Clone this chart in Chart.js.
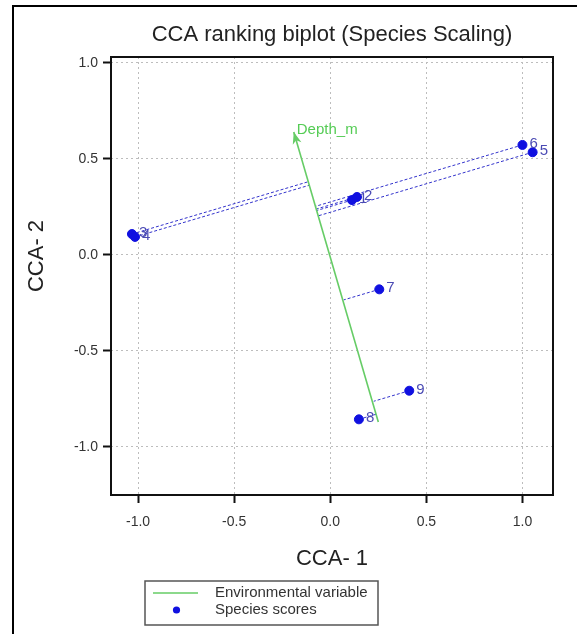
<!DOCTYPE html>
<html>
<head>
<meta charset="utf-8">
<title>CCA ranking biplot</title>
<script src="https://cdn.jsdelivr.net/npm/chart.js@4.4.1/dist/chart.umd.min.js"></script>
<style>
  html, body { margin: 0; padding: 0; background: #fff; }
  #wrap { width: 577px; height: 634px; position: relative; }
</style>
</head>
<body>
<div id="wrap"><canvas id="ccaChart" width="577" height="634"></canvas></div>
<script>
// species scores on the first two CCA axes
const speciesLabels = ['1', '2', '3', '4', '5', '6', '7', '8', '9'];
const speciesCCA1 = [0.113, 0.139, -1.032, -1.016, 1.053, 1.000, 0.255, 0.149, 0.411];
const speciesCCA2 = [0.286, 0.302, 0.109, 0.094, 0.535, 0.573, -0.179, -0.856, -0.707];

// environmental variable: line through the origin, arrow at the head
const envName = 'Depth_m';
const envCCA1 = [0.25, -0.19];   // tail, head
const envCCA2 = [-0.87, 0.64];

const axisTicks = [-1.0, -0.5, 0.0, 0.5, 1.0];

const FONT = '"Liberation Sans", Arial, Helvetica, sans-serif';
const BLUE = '#1010e0';
const GREEN = '#66cc66';

// foot of the perpendicular from each species point onto the env line
const hx = envCCA1[1], hy = envCCA2[1];
const hlen2 = hx * hx + hy * hy;
const projLines = speciesLabels.map((lab, i) => {
  const t = (speciesCCA1[i] * hx + speciesCCA2[i] * hy) / hlen2;
  return [
    { x: speciesCCA1[i], y: speciesCCA2[i] },
    { x: t * hx, y: t * hy }
  ];
});

const datasets = [];
datasets.push({
  label: 'Species scores',
  type: 'scatter',
  data: speciesLabels.map((l, i) => ({ x: speciesCCA1[i], y: speciesCCA2[i] })),
  backgroundColor: BLUE,
  borderColor: BLUE,
  pointRadius: 4.5,
  pointHoverRadius: 4.5
});
datasets.push({
  label: 'Environmental variable',
  type: 'line',
  data: envCCA1.map((v, i) => ({ x: v, y: envCCA2[i] })),
  borderColor: GREEN,
  borderWidth: 1.6,
  pointRadius: 0,
  fill: false
});
projLines.forEach((seg, i) => {
  datasets.push({
    label: 'proj ' + speciesLabels[i],
    type: 'line',
    data: seg,
    borderColor: '#3333cc',
    borderWidth: 1,
    borderDash: [3, 2],
    pointRadius: 0,
    fill: false
  });
});

// frame, arrow head, point labels, axis titles and legend
const biplotDecor = {
  id: 'biplotDecor',
  afterDraw(chart) {
    const ctx = chart.ctx;
    const xs = chart.scales.x, ys = chart.scales.y;
    const area = chart.chartArea;
    ctx.save();

    // outer border of the figure
    ctx.strokeStyle = '#000';
    ctx.lineWidth = 2;
    ctx.strokeRect(13, 6, 700, 700);

    // plot frame
    ctx.lineWidth = 2;
    ctx.strokeStyle = '#111';
    ctx.strokeRect(area.left, area.top, area.right - area.left, area.bottom - area.top);

    // arrow head on the env variable
    const tx = xs.getPixelForValue(envCCA1[0]), ty = ys.getPixelForValue(envCCA2[0]);
    const px = xs.getPixelForValue(envCCA1[1]), py = ys.getPixelForValue(envCCA2[1]);
    const ang = Math.atan2(py - ty, px - tx);
    const len = 12, half = 4.5;
    ctx.fillStyle = GREEN;
    ctx.beginPath();
    ctx.moveTo(px, py);
    ctx.lineTo(px - len * Math.cos(ang) + half * Math.sin(ang), py - len * Math.sin(ang) - half * Math.cos(ang));
    ctx.lineTo(px - len * 0.7 * Math.cos(ang), py - len * 0.7 * Math.sin(ang));
    ctx.lineTo(px - len * Math.cos(ang) - half * Math.sin(ang), py - len * Math.sin(ang) + half * Math.cos(ang));
    ctx.closePath();
    ctx.fill();

    ctx.font = '15px ' + FONT;
    ctx.textAlign = 'left';
    ctx.textBaseline = 'middle';
    ctx.fillStyle = '#55cc55';
    ctx.fillText(envName, px + 3, py - 2);

    // species numbers
    ctx.fillStyle = '#4b4bb4';
    speciesLabels.forEach((lab, i) => {
      const sx = xs.getPixelForValue(speciesCCA1[i]);
      const sy = ys.getPixelForValue(speciesCCA2[i]);
      ctx.fillText(lab, sx + 7, sy - 1);
    });

    // axis titles
    ctx.fillStyle = '#222';
    ctx.font = '22px ' + FONT;
    ctx.textAlign = 'center';
    ctx.fillText('CCA- 1', (area.left + area.right) / 2, 559);
    ctx.save();
    ctx.translate(37, 256);
    ctx.rotate(-Math.PI / 2);
    ctx.fillText('CCA- 2', 0, 0);
    ctx.restore();

    // legend box
    ctx.strokeStyle = '#555';
    ctx.lineWidth = 1.5;
    ctx.strokeRect(145, 581, 233, 44);
    ctx.strokeStyle = GREEN;
    ctx.lineWidth = 1.6;
    ctx.beginPath();
    ctx.moveTo(153, 593);
    ctx.lineTo(198, 593);
    ctx.stroke();
    ctx.fillStyle = BLUE;
    ctx.beginPath();
    ctx.arc(176.5, 610, 3.6, 0, Math.PI * 2);
    ctx.fill();
    ctx.fillStyle = '#333';
    ctx.font = '15px ' + FONT;
    ctx.textAlign = 'left';
    ctx.fillText('Environmental variable', 215, 593);
    ctx.fillText('Species scores', 215, 610);

    ctx.restore();
  }
};

const gridOpts = {
  color: '#bdbdbd',
  lineWidth: 1,
  tickColor: '#111',
  tickLength: 8,
  tickWidth: 2,
  tickBorderDash: []
};

new Chart(document.getElementById('ccaChart'), {
  data: { datasets: datasets },
  options: {
    responsive: false,
    animation: false,
    events: [],
    layout: { padding: { top: 0, right: 24, bottom: 0, left: 0 } },
    plugins: {
      legend: { display: false },
      tooltip: { enabled: false },
      title: {
        display: true,
        fullSize: false,
        text: 'CCA ranking biplot (Species Scaling)',
        color: '#222',
        font: { family: FONT, size: 22, weight: 'normal' },
        padding: { top: 21.5, bottom: 9.1 }
      }
    },
    scales: {
      x: {
        type: 'linear',
        min: -1.141,
        max: 1.159,
        afterBuildTicks: s => { s.ticks = axisTicks.map(v => ({ value: v })); },
        afterFit: s => { s.height = 139; },
        grid: gridOpts,
        border: { display: false, dash: [2, 3] },
        ticks: {
          color: '#333',
          font: { family: FONT, size: 14 },
          padding: 11,
          maxRotation: 0,
          callback: v => v.toFixed(1)
        }
      },
      y: {
        type: 'linear',
        min: -1.25,
        max: 1.031,
        afterBuildTicks: s => { s.ticks = axisTicks.map(v => ({ value: v })); },
        afterFit: s => { s.width = 111; },
        grid: gridOpts,
        border: { display: false, dash: [2, 3] },
        ticks: {
          color: '#333',
          font: { family: FONT, size: 14 },
          padding: 5,
          callback: v => v.toFixed(1)
        }
      }
    }
  },
  plugins: [biplotDecor]
});
</script>
</body>
</html>
